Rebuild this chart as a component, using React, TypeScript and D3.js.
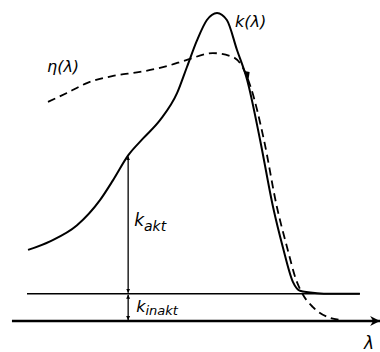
import React from 'react';
import * as d3 from 'd3';

// wavelength axis (arbitrary units) and curve heights (0 = axis)
const kLambda = [2.3, 8.6, 16.3, 22.9, 26.6, 30.9, 35.1, 40.0, 44.9, 47.7, 50.6, 53.4, 56.3, 59.1, 62.0, 64.9, 68.6, 72.3, 75.1, 78.0, 80.0, 84.9, 88.5, 97.1];
const kValues = [23.0, 25.8, 31.0, 39.2, 45.6, 53.6, 59.0, 65.0, 73.8, 82.2, 90.9, 97.4, 99.7, 97.4, 87.7, 78.0, 58.6, 36.9, 23.9, 12.6, 9.8, 9.0, 8.8, 8.8];

const etaLambda = [8.0, 13.4, 19.1, 26.6, 34.3, 42.0, 47.7, 55.1, 60.9, 63.7, 66.0, 69.7, 73.4, 76.3, 78.9, 80.9, 83.7, 88.6, 91.0];
const etaValues = [70.9, 73.8, 77.0, 79.3, 80.6, 82.5, 84.5, 86.7, 85.4, 81.9, 75.4, 58.6, 36.9, 23.9, 13.3, 8.4, 4.5, 1.0, 0.4];

const kInaktLevel = 8.8;
const markLambda = 30.9;
const markK = 53.6;
const inaktRange = [2.0, 97.1];
const axisRange = [-2.3, 102.9];
const arrowOnK = [64.9, 78.0];

const W = 380;
const H = 352;

const App = () => {
	const x = d3.scaleLinear().domain([0, 100]).range([20, 370]);
	const y = d3.scaleLinear().domain([0, 100]).range([321, 12]);

	const line = d3.line<[number, number]>()
		.x((d) => x(d[0]))
		.y((d) => y(d[1]))
		.curve(d3.curveMonotoneX);

	const kPath = line(kLambda.map((l, i) => [l, kValues[i]]));
	const etaPath = line(etaLambda.map((l, i) => [l, etaValues[i]]));

	const mx = x(markLambda);
	const ax = x(arrowOnK[0]);
	const ay = y(arrowOnK[1]);
	const font = "'DejaVu Sans', sans-serif";

	return (
		<svg width={ W } height={ H } style={{ position: 'absolute', left: 0, top: 0, background: '#fff' }}>
			<defs>
				<marker id="ah" viewBox="0 0 10 10" refX="10" refY="5" markerWidth="4" markerHeight="7" orient="auto-start-reverse" markerUnits="userSpaceOnUse">
					<path d="M0,0 L10,5 L0,10 z" fill="#000"/>
				</marker>
				<marker id="big" viewBox="0 0 10 10" refX="10" refY="5" markerWidth="16" markerHeight="10" orient="auto" markerUnits="userSpaceOnUse">
					<path d="M0,0 L10,5 L0,10 L3,5 z" fill="#000"/>
				</marker>
			</defs>

			{/* inactive level and axis */}
			<line x1={ x(inaktRange[0]) } x2={ x(inaktRange[1]) } y1={ y(kInaktLevel) } y2={ y(kInaktLevel) } stroke="#000" strokeWidth={ 1.6 }/>
			<line x1={ x(axisRange[0]) } x2={ x(axisRange[1]) } y1={ y(0) } y2={ y(0) } stroke="#000" strokeWidth={ 2.4 } markerEnd="url(#big)"/>

			{/* curves */}
			<path d={ etaPath ?? '' } fill="none" stroke="#000" strokeWidth={ 1.8 } strokeDasharray="8 5"/>
			<path d={ kPath ?? '' } fill="none" stroke="#000" strokeWidth={ 2 }/>
			<path d={ `M${ ax - 2.5 },${ ay - 9 } L${ ax + 2.5 },${ ay - 8 } L${ ax + 1 },${ ay + 2 } z` } fill="#000"/>

			{/* k_akt and k_inakt arrows */}
			<line x1={ mx } x2={ mx } y1={ y(markK) + 1 } y2={ y(kInaktLevel) - 1 } stroke="#000" strokeWidth={ 1.3 } markerStart="url(#ah)" markerEnd="url(#ah)"/>
			<line x1={ mx } x2={ mx } y1={ y(kInaktLevel) + 1 } y2={ y(0) - 1 } stroke="#000" strokeWidth={ 1.3 } markerStart="url(#ah)" markerEnd="url(#ah)"/>

			<g fontFamily={ font } fontStyle="italic" fill="#000">
				<text x={ 235 } y={ 27 } fontSize={ 16 }>k(λ)</text>
				<text x={ 47 } y={ 72 } fontSize={ 16 }>η(λ)</text>
				<text x={ mx + 6 } y={ 226 } fontSize={ 17 }>k<tspan fontSize={ 14 } dy={ 5 }>akt</tspan></text>
				<text x={ mx + 8 } y={ 312 } fontSize={ 16 }>k<tspan fontSize={ 13 } dy={ 3 }>inakt</tspan></text>
				<text x={ 364 } y={ 349 } fontSize={ 17 }>λ</text>
			</g>
		</svg>
	);
};

export default App;
